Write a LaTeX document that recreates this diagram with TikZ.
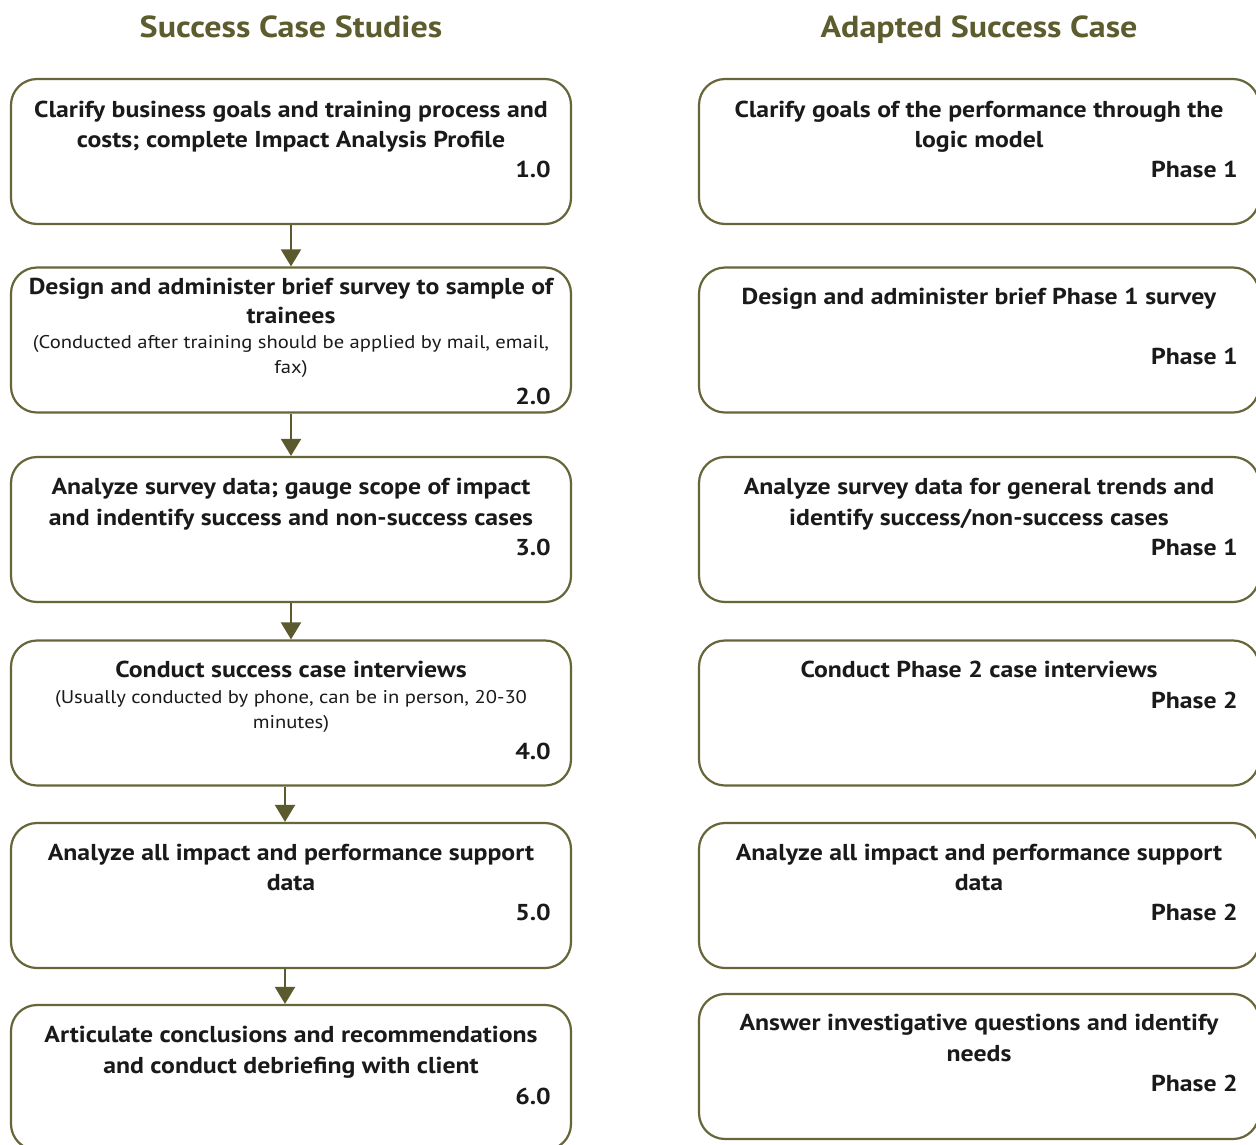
\documentclass[tikz,border=0pt]{standalone}
\usepackage{fontspec}
\setmainfont[FakeStretch=1.12]{PT Sans}
\usetikzlibrary{arrows.meta}
\definecolor{boxol}{HTML}{66663A}
\definecolor{titleol}{HTML}{5C5C2E}
\definecolor{arrowol}{HTML}{5A5A2E}
\definecolor{txt}{HTML}{1A1A1A}
\begin{document}
\begin{tikzpicture}[x=1pt,y=-1pt,
  stepbox/.style={draw=boxol, line width=2.2pt, rounded corners=26pt, minimum width=560pt, minimum height=145pt, inner sep=0pt, fill=white},
  ttl/.style={anchor=base, inner sep=0pt, text=titleol, font=\fontsize{30.4}{34}\selectfont\bfseries},
  tx/.style={anchor=base, inner sep=0pt, text=txt, font=\fontsize{23}{27}\selectfont\bfseries},
  sm/.style={anchor=base, inner sep=0pt, text=txt, font=\fontsize{18.4}{23}\selectfont},
  num/.style={anchor=base east, inner sep=0pt, text=txt, font=\fontsize{23}{27}\selectfont\bfseries},
  conn/.style={draw=arrowol, line width=2pt, -{Triangle[length=17pt,width=20pt]}, arrowol}
]
\clip (0,0) rectangle (1256,1144);
\fill[white] (0,0) rectangle (1256,1144);

% titles
\node[ttl] (t1) at (291,37) {Success Case Studies};
\node[ttl] (t2) at (979,37) {Adapted Success Case};

% left boxes
\node[stepbox] (b1) at (291,151.5) {};
\node[stepbox] (b2) at (291,340) {};
\node[stepbox] (b3) at (291,529.5) {};
\node[stepbox] (b4) at (291,713) {};
\node[stepbox] (b5) at (291,895.5) {};
\node[stepbox] (b6) at (291,1077.5) {};

% right boxes
\node[stepbox] (r1) at (979,151.5) {};
\node[stepbox] (r2) at (979,340) {};
\node[stepbox] (r3) at (979,529.5) {};
\node[stepbox] (r4) at (979,713) {};
\node[stepbox] (r5) at (979,895.5) {};
\node[stepbox] (r6) at (979,1066.5) {};

% connectors
\draw[conn] (b1.south) -- (b2.north);
\draw[conn] (b2.south) -- (b3.north);
\draw[conn] (b3.south) -- (b4.north);
\draw[conn] ([xshift=-6pt]b4.south) -- ([xshift=-6pt]b5.north);
\draw[conn] ([xshift=-6pt]b5.south) -- ([xshift=-6pt]b6.north);

% left texts
\node[tx] (b1a) at (291,117) {Clarify business goals and training process and};
\node[tx] (b1b) at (291,147) {costs; complete Impact Analysis Profile};
\node[num] (b1n) at (551,177) {1.0};

\node[tx] (b2a) at (291,294) {Design and administer brief survey to sample of};
\node[tx] (b2b) at (291,323) {trainees};
\node[sm] (b2c) at (291,348) {(Conducted after training should be applied by mail, email,};
\node[sm] (b2d) at (291,373) {fax)};
\node[num] (b2n) at (551,404) {2.0};

\node[tx] (b3a) at (291,494) {Analyze survey data; gauge scope of impact};
\node[tx] (b3b) at (291,525) {and indentify success and non-success cases};
\node[num] (b3n) at (551,555) {3.0};

\node[tx] (b4a) at (291,677) {Conduct success case interviews};
\node[sm] (b4b) at (291,703) {(Usually conducted by phone, can be in person, 20-30};
\node[sm] (b4c) at (291,728) {minutes)};
\node[num] (b4n) at (551,759) {4.0};

\node[tx] (b5a) at (291,860) {Analyze all impact and performance support};
\node[tx] (b5b) at (291,890) {data};
\node[num] (b5n) at (551,920) {5.0};

\node[tx] (b6a) at (291,1042) {Articulate conclusions and recommendations};
\node[tx] (b6b) at (291,1073) {and conduct debriefing with client};
\node[num] (b6n) at (551,1104) {6.0};

% right texts
\node[tx] (r1a) at (979,117) {Clarify goals of the performance through the};
\node[tx] (r1b) at (979,147) {logic model};
\node[num] (r1n) at (1238,177) {Phase 1};

\node[tx] (r2a) at (979,304) {Design and administer brief Phase 1 survey};
\node[num] (r2n) at (1238,364) {Phase 1};

\node[tx] (r3a) at (979,494) {Analyze survey data for general trends and};
\node[tx] (r3b) at (979,525) {identify success/non-success cases};
\node[num] (r3n) at (1238,555) {Phase 1};

\node[tx] (r4a) at (979,677) {Conduct Phase 2 case interviews};
\node[num] (r4n) at (1238,708) {Phase 2};

\node[tx] (r5a) at (979,860) {Analyze all impact and performance support};
\node[tx] (r5b) at (979,890) {data};
\node[num] (r5n) at (1238,920) {Phase 2};

\node[tx] (r6a) at (979,1030) {Answer investigative questions and identify};
\node[tx] (r6b) at (979,1061) {needs};
\node[num] (r6n) at (1238,1091) {Phase 2};
\end{tikzpicture}
\end{document}
